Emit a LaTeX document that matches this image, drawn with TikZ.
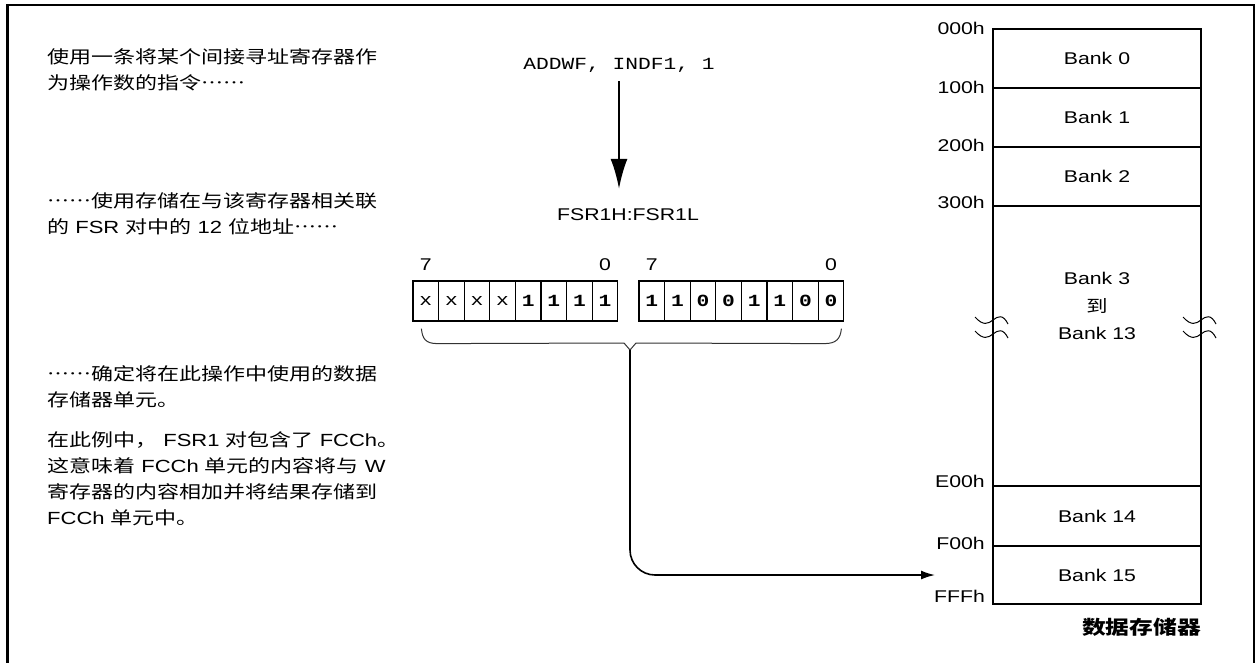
\documentclass[tikz,border=0pt]{standalone}
\usepackage{fontspec}
\setmainfont[FakeStretch=1.25]{Liberation Sans}
\setmonofont[FakeStretch=1.25]{Liberation Mono}
\newfontfamily\cjk[FakeStretch=1.25, Script=CJK, Language=Chinese Simplified, RawFeature=+fwid]{Noto Sans CJK SC}
\usetikzlibrary{arrows.meta,positioning,calc}

\newcommand\lat[1]{{\normalfont #1}}
\newcommand\dig[1]{{\bfseries #1}}
\newcommand\txtsize{\fontsize{17}{26}\selectfont}
\newcommand\zhsize{\fontsize{17.6}{26}\selectfont}

\begin{document}
\begin{tikzpicture}[
  x=1pt, y=-1pt,
  every node/.style={font=\txtsize, inner sep=0pt},
  note/.style={anchor=base west, align=left, font=\zhsize\cjk},
  bank/.style={draw, line width=1.6pt, minimum width=208pt, minimum height=#1,
    anchor=north, outer sep=0pt},
  addr/.style={font=\txtsize},
  bitcell/.style={draw, line width=1.2pt, minimum width=25.6pt, minimum height=40pt,
    font=\txtsize\ttfamily},
  bitnum/.style={font=\txtsize},
  bigarrow/.style={-{Latex[length=30pt, width=17pt]}, line width=2pt},
  arrow/.style={-{Latex[length=14pt, width=9pt]}, line width=1.6pt},
  brace/.style={line width=1pt, black!80},
  breakmark/.style={line width=1pt},
]
\useasboundingbox (0,0) rectangle (1257,662);
% outer frame
\draw[line width=2.6pt] (7.5,680) -- (7.5,5) -- (1254,5) -- (1254,680);

% left notes (base = last line)
\node[note] (noteA) at (47,89.6) {使用一条将某个间接寻址寄存器作\\为操作数的指令……};
\node[note] (noteB) at (47,233.6) {……使用存储在与该寄存器相关联\\的\lat{ FSR }对中的\lat{ 12 }位地址……};
\node[note] (noteC) at (47,406.6) {……确定将在此操作中使用的数据\\存储器单元。};
\node[note] (noteD) at (47,524.6) {在此例中，\lat{ FSR1 }对包含了\lat{ FCCh}。\\这意味着\lat{ FCCh }单元的内容将与\lat{ W}\\寄存器的内容相加并将结果存储到\\\lat{FCCh }单元中。};

% instruction and FSR pair
\node[font=\txtsize\ttfamily] (instr) at (619,65) {ADDWF, INDF1, 1};
\node (fsr) at (628,215) {FSR1H:FSR1L};
\draw[bigarrow, shorten <=9pt, shorten >=20pt] (instr.south) -- (instr.south |- fsr.north);

% register bits
\foreach \b [count=\i] in {x,x,x,x,\dig{1},\dig{1},\dig{1},\dig{1}}
  \node[bitcell] (hi\i) at ({400.2+\i*25.6},301) {\b};
\foreach \b [count=\i] in {1,1,0,0,1,1,0,0}
  \node[bitcell] (lo\i) at ({626.2+\i*25.6},301) {\dig{\b}};
\node[bitnum, above=10pt of hi1] (hiMsb) {7};
\node[bitnum, above=10pt of hi8] (hiLsb) {0};
\node[bitnum, above=10pt of lo1] (loMsb) {7};
\node[bitnum, above=10pt of lo8] (loLsb) {0};

% brace under both registers
\coordinate (brtip) at (630,350);
\draw[brace] ($(hi1.south west)+(9,7)$) .. controls +(1,10) and +(-12,0) .. ($(hi1.south west)+(25,22)$)
  -- ($(brtip)+(-6,-7)$) -- (brtip) -- ($(brtip)+(6,-7)$)
  -- ($(lo8.south east)+(-20,22)$) .. controls +(12,0) and +(-1,10) .. ($(lo8.south east)+(-3,7)$);

% data memory
\node[bank=59pt] (b0) at (1097,29) {Bank 0};
\node[bank=59pt, below=0pt of b0] (b1) {Bank 1};
\node[bank=59pt, below=0pt of b1] (b2) {Bank 2};
\node[bank=280pt, below=0pt of b2] (b3) {};
\node[bank=60pt, below=0pt of b3] (b14) {Bank 14};
\node[bank=58pt, below=0pt of b14] (b15) {Bank 15};
\node[align=center, font=\fontsize{17}{27.5}\selectfont] (b3txt) at (1097,306) {Bank 3\\{\cjk 到}\\Bank 13};

\node[addr, left=8pt of b0.north west, yshift=1pt] (a000) {000h};
\node[addr, left=8pt of b1.north west, yshift=1pt] (a100) {100h};
\node[addr, left=8pt of b2.north west, yshift=2pt] (a200) {200h};
\node[addr, left=8pt of b3.north west, yshift=4pt] (a300) {300h};
\node[addr, left=8pt of b14.north west, yshift=5pt] (aE00) {E00h};
\node[addr, left=8pt of b15.north west, yshift=3pt] (aF00) {F00h};
\node[addr, left=8pt of b15.south west, yshift=8pt] (aFFF) {FFFh};

% break marks
\foreach \bx in {993,1201} \foreach \by in {320,334}
  \draw[breakmark] (\bx-18,\by-3) .. controls (\bx-10,\by+6) and (\bx-5,\by+4) .. (\bx,\by)
    .. controls (\bx+5,\by-4) and (\bx+10,\by-6) .. (\bx+15,\by+4);

\node[font=\fontsize{19}{22}\selectfont\cjk\bfseries, below left=14pt and 0pt of b15.south east] (memtitle) {数据存储器};

% pointer into memory
\coordinate (tgt) at (935,575);
\draw[arrow, rounded corners=25pt] (brtip) |- (tgt);
\end{tikzpicture}
\end{document}
